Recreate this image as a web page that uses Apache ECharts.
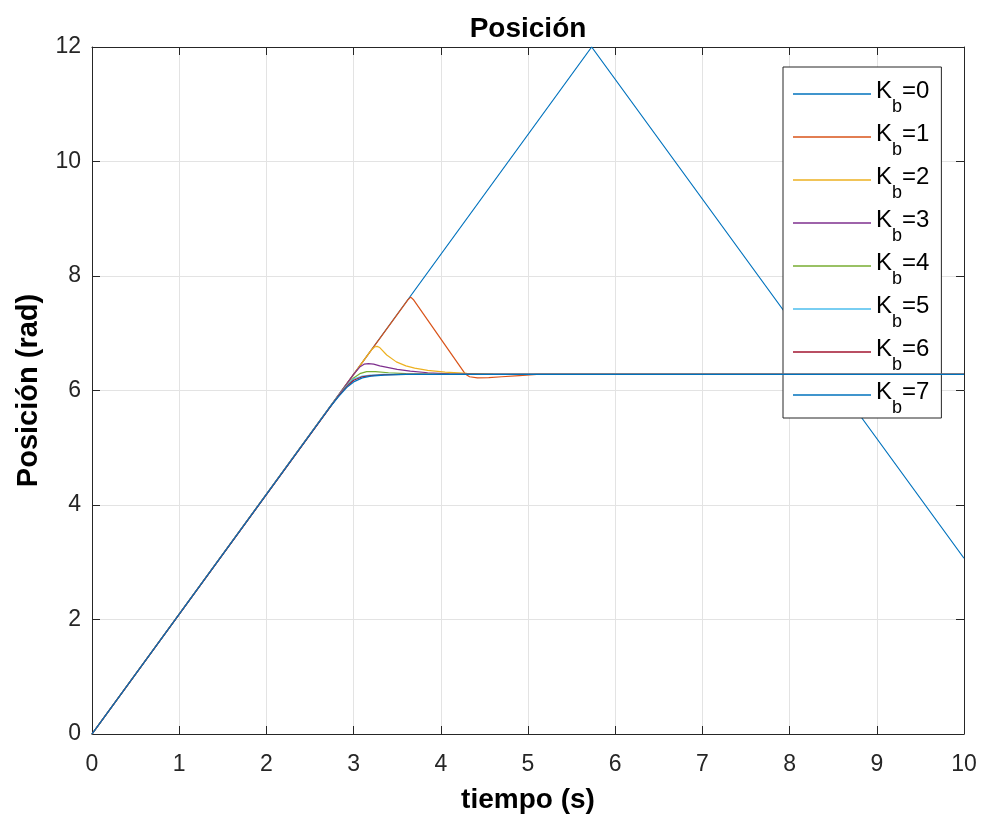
<!DOCTYPE html>
<html><head><meta charset="utf-8">
<script src="https://cdn.jsdelivr.net/npm/echarts@6/dist/echarts.min.js"></script>
<style>html,body{margin:0;padding:0;background:#fff}#c{width:982px;height:820px}</style>
</head><body><div id="c"></div>
<script>
const seriesNames = ['0','1','2','3','4','5','6','7'];
const colors = ['#0072BD','#D95319','#EDB120','#7E2F8E','#77AC30','#4DBEEE','#A2142F','#0072BD'];

const t0 = [0, 5.73, 10];
const y0 = [0, 12, 3.07];
const t1 = [0, 3.62, 3.655, 3.69, 4.28, 4.33, 4.42, 4.55, 4.7, 4.9, 5.1, 10];
const y1 = [0, 7.58, 7.63, 7.58, 6.29, 6.24, 6.22, 6.225, 6.24, 6.26, 6.28, 6.28];
const t2 = [0, 3.0, 3.2, 3.24, 3.27, 3.3, 3.38, 3.49, 3.6, 3.7, 3.85, 4.05, 4.3, 4.6, 10];
const y2 = [0, 6.28, 6.70, 6.76, 6.77, 6.75, 6.62, 6.50, 6.43, 6.39, 6.35, 6.32, 6.30, 6.285, 6.28];
const t3 = [0, 3.0, 3.07, 3.12, 3.17, 3.23, 3.3, 3.4, 3.5, 3.65, 3.85, 4.1, 4.5, 10];
const y3 = [0, 6.28, 6.41, 6.46, 6.47, 6.46, 6.43, 6.40, 6.37, 6.34, 6.31, 6.29, 6.28, 6.28];
const t4 = [0, 2.8, 2.9, 3.0, 3.08, 3.15, 3.25, 3.4, 3.6, 3.9, 10];
const y4 = [0, 5.86, 6.05, 6.22, 6.30, 6.33, 6.33, 6.31, 6.295, 6.285, 6.28];
const t5 = [0, 2.75, 2.85, 2.95, 3.0, 3.1, 3.2, 3.35, 3.5, 10];
const y5 = [0, 5.76, 5.96, 6.13, 6.20, 6.25, 6.27, 6.28, 6.28, 6.28];
const t6 = [0, 2.75, 2.85, 2.95, 3.0, 3.1, 3.2, 3.35, 3.55, 10];
const y6 = [0, 5.75, 5.95, 6.11, 6.18, 6.24, 6.26, 6.275, 6.28, 6.28];
const t7 = [0, 2.72, 2.82, 2.92, 3.0, 3.1, 3.2, 3.35, 3.6, 10];
const y7 = [0, 5.69, 5.88, 6.05, 6.15, 6.22, 6.25, 6.27, 6.28, 6.28];

const xTicks = [0,1,2,3,4,5,6,7,8,9,10];
const yTicks = [0,2,4,6,8,10,12];

const allT = [t0,t1,t2,t3,t4,t5,t6,t7];
const allY = [y0,y1,y2,y3,y4,y5,y6,y7];

const FONT = 'Liberation Sans, Arial, Helvetica, sans-serif';
const AX = '#262626';

const series = seriesNames.map((n, i) => ({
  name: 'Kb=' + n,
  type: 'line',
  data: allT[i].map((t, j) => [t, allY[i][j]]),
  symbol: 'none',
  showSymbol: false,
  clip: false,
  lineStyle: { width: 1.2, color: colors[i] },
  itemStyle: { color: colors[i] },
  emphasis: { disabled: true },
  animation: false,
  z: 2 + i
}));

const chart = echarts.init(document.getElementById('c'), null, { renderer: 'canvas' });
chart.setOption({
  backgroundColor: '#fff',
  animation: false,
  title: {
    text: 'Posición', left: 523, top: 10, textAlign: 'center',
    textStyle: { fontFamily: FONT, fontSize: 28, fontWeight: 'bold', color: '#000' }
  },
  grid: { left: 92, right: 18, top: 47, bottom: 86, containLabel: false },
  legend: {
    orient: 'vertical', left: 783, top: 67,
    padding: [12, 12, 1, 10],
    icon: 'rect',
    itemWidth: 78, itemHeight: 1.5, itemGap: 6,
    backgroundColor: '#fff', borderColor: AX, borderWidth: 1,
    textStyle: {
      fontFamily: FONT, fontSize: 24, color: '#000',
      rich: {
        k: { fontFamily: FONT, fontSize: 24, color: '#000', padding: [0,0,6,0] },
        b: { fontFamily: FONT, fontSize: 18, color: '#000', padding: [26,0,0,0] }
      }
    },
    formatter: name => '{k|K}{b|b}{k|=' + name.slice(3) + '}',
    data: seriesNames.map(n => ({ name: 'Kb=' + n }))
  },
  xAxis: [{
    type: 'value', min: 0, max: 10, interval: 1,
    name: 'tiempo (s)', nameLocation: 'middle', nameGap: 52,
    nameTextStyle: { fontFamily: FONT, fontSize: 28, fontWeight: 'bold', color: '#000' },
    axisLine: { show: true, onZero: false, lineStyle: { color: AX, width: 1 } },
    axisTick: { show: true, inside: true, length: 8, lineStyle: { color: AX } },
    axisLabel: { fontFamily: FONT, fontSize: 23, color: '#262626', margin: 19,
      formatter: v => xTicks.includes(v) ? String(v) : '' },
    splitLine: { show: true, lineStyle: { color: '#e3e3e3', width: 1 } }
  }, {
    type: 'value', min: 0, max: 10, interval: 1, position: 'top',
    axisLine: { show: true, onZero: false, lineStyle: { color: AX, width: 1 } },
    axisTick: { show: true, inside: true, length: 8, lineStyle: { color: AX } },
    axisLabel: { show: false }, splitLine: { show: false }
  }],
  yAxis: [{
    type: 'value', min: 0, max: 12, interval: 2,
    name: 'Posición (rad)', nameLocation: 'middle', nameGap: 49,
    nameTextStyle: { fontFamily: FONT, fontSize: 29, fontWeight: 'bold', color: '#000' },
    axisLine: { show: true, onZero: false, lineStyle: { color: AX, width: 1 } },
    axisTick: { show: true, inside: true, length: 8, lineStyle: { color: AX } },
    axisLabel: { fontFamily: FONT, fontSize: 23, color: '#262626', margin: 11,
      formatter: v => yTicks.includes(v) ? String(v) : '' },
    splitLine: { show: true, lineStyle: { color: '#e3e3e3', width: 1 } }
  }, {
    type: 'value', min: 0, max: 12, interval: 2, position: 'right',
    axisLine: { show: true, onZero: false, lineStyle: { color: AX, width: 1 } },
    axisTick: { show: true, inside: true, length: 8, lineStyle: { color: AX } },
    axisLabel: { show: false }, splitLine: { show: false }
  }],
  series: series
});
</script></body></html>
